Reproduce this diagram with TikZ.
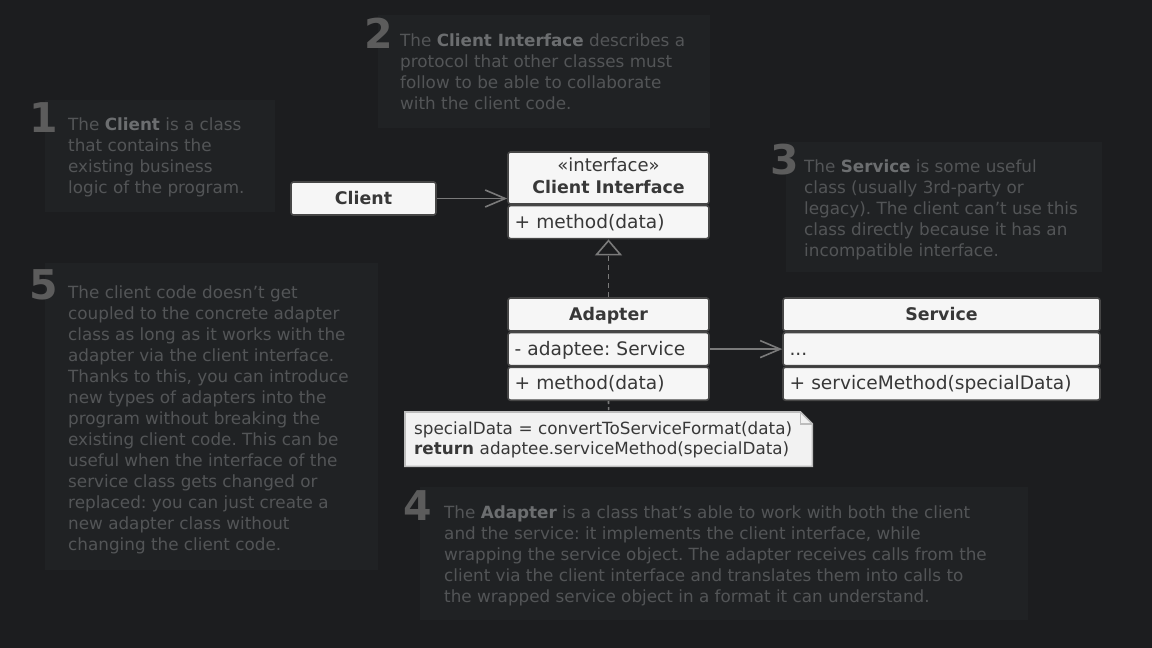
\documentclass[tikz,border=0pt]{standalone}
\usepackage{fontspec}
\setmainfont{DejaVu Sans}
\usetikzlibrary{positioning,arrows.meta,backgrounds}
\frenchspacing

\definecolor{pagebg}{HTML}{1C1D1F}
\definecolor{panelbg}{HTML}{202224}
\definecolor{desctext}{HTML}{535557}
\definecolor{descbold}{HTML}{6C6E70}
\definecolor{numgray}{HTML}{5C5C5C}
\definecolor{boxfill}{HTML}{F6F6F6}
\definecolor{boxline}{HTML}{464646}
\definecolor{boxtext}{HTML}{383838}
\definecolor{wire}{HTML}{7A7A7A}
\definecolor{notefill}{HTML}{F2F2F2}
\definecolor{noteline}{HTML}{BDBDBD}

\newcommand{\kw}[1]{\textbf{\color{descbold}#1}}
\newcommand{\rowstrut}{\rule[-5pt]{0pt}{22pt}}
\newcommand{\notestrut}{\rule[-4.5pt]{0pt}{20pt}}

\tikzset{
  desc/.style={anchor=base west, inner sep=0pt, text=desctext, font=\fontsize{16.8}{21}\selectfont},
  bignum/.style={anchor=base west, inner sep=0pt, text=numgray, font=\fontsize{41}{41}\selectfont\bfseries},
  umlbox/.style={draw=boxline, fill=boxfill, line width=1.6pt, rounded corners=2.5pt, text=boxtext,
    inner xsep=6.5pt, inner ysep=0pt, execute at begin node=\rowstrut},
  classhead/.style={umlbox, align=center, font=\fontsize{17.4}{22}\selectfont\bfseries},
  classrow/.style={umlbox, align=left, minimum height=33pt, font=\fontsize{18.6}{22}\selectfont},
  assoc/.style={draw=wire, line width=1.6pt, -{Straight Barb[length=20pt,width=17pt]}},
  realize/.style={draw=wire, line width=1.6pt, dash pattern=on 5pt off 4pt,
    -{Triangle[open,length=16pt,width=27pt,fill=pagebg]}},
}

\begin{document}
\begin{tikzpicture}[x=1pt,y=-1pt]
\useasboundingbox (0,0) rectangle (1152,648);

% 1 client
\node[bignum] (n1) at (29,132){1};
\node[desc] (d1a) at (68,130){The \kw{Client} is a class};
\node[desc] (d1b) at (68,151){that contains the};
\node[desc] (d1c) at (68,172){existing business};
\node[desc] (d1d) at (68,193){logic of the program.};

% 2 client interface
\node[bignum] (n2) at (364,48){2};
\node[desc] (d2a) at (400,46){The \kw{Client Interface} describes a};
\node[desc] (d2b) at (400,67){protocol that other classes must};
\node[desc] (d2c) at (400,88){follow to be able to collaborate};
\node[desc] (d2d) at (400,109){with the client code.};

% 3 service
\node[bignum] (n3) at (770,174){3};
\node[desc] (d3a) at (804,172){The \kw{Service} is some useful};
\node[desc] (d3b) at (804,193){class (usually 3rd-party or};
\node[desc] (d3c) at (804,214){legacy). The client can’t use this};
\node[desc] (d3d) at (804,235){class directly because it has an};
\node[desc] (d3e) at (804,256){incompatible interface.};

% 4 adapter
\node[bignum] (n4) at (403,520){4};
\node[desc] (d4a) at (444,518){The \kw{Adapter} is a class that’s able to work with both the client};
\node[desc] (d4b) at (444,539){and the service: it implements the client interface, while};
\node[desc] (d4c) at (444,560){wrapping the service object. The adapter receives calls from the};
\node[desc] (d4d) at (444,581){client via the client interface and translates them into calls to};
\node[desc] (d4e) at (444,602){the wrapped service object in a format it can understand.};

% 5 decoupling
\node[bignum] (n5) at (29,299){5};
\node[desc] (d5a) at (68,298){The client code doesn’t get};
\node[desc] (d5b) at (68,319){coupled to the concrete adapter};
\node[desc] (d5c) at (68,340){class as long as it works with the};
\node[desc] (d5d) at (68,361){adapter via the client interface.};
\node[desc] (d5e) at (68,382){Thanks to this, you can introduce};
\node[desc] (d5f) at (68,403){new types of adapters into the};
\node[desc] (d5g) at (68,424){program without breaking the};
\node[desc] (d5h) at (68,445){existing client code. This can be};
\node[desc] (d5i) at (68,466){useful when the interface of the};
\node[desc] (d5j) at (68,487){service class gets changed or};
\node[desc] (d5k) at (68,508){replaced: you can just create a};
\node[desc] (d5l) at (68,529){new adapter class without};
\node[desc] (d5m) at (68,550){changing the client code.};

% classes
\node[classhead, minimum width=145pt, minimum height=33pt] (client) at (363.5,198.5){Client};
\node[classhead, minimum width=201pt, minimum height=52pt] (ifacehead) at (608.5,178){{\mdseries\fontsize{18}{22}\selectfont «interface»}\\Client Interface};
\node[classrow, text width=188pt, below=0pt of ifacehead] (ifacemeth){+ method(data)};

\node[classhead, minimum width=201pt, minimum height=33pt] (adaphead) at (608.5,314.5){Adapter};
\node[classrow, text width=188pt, below=0pt of adaphead] (adapattr){- adaptee: Service};
\node[classrow, text width=188pt, below=0pt of adapattr] (adapmeth){+ method(data)};

\node[classhead, minimum width=317pt, minimum height=33pt] (servhead) at (941.5,314.5){Service};
\node[classrow, text width=304pt, below=0pt of servhead] (servattr){...};
\node[classrow, text width=304pt, below=0pt of servattr] (servmeth){+ serviceMethod(specialData)};

% note
\node[anchor=north west, align=left, text width=389pt, inner xsep=9pt, inner ysep=0pt, minimum height=54pt,
  text=boxtext, font=\fontsize{16.8}{20}\selectfont] (note) at (405,412)
  {\notestrut specialData = convertToServiceFormat(data)\\\notestrut\textbf{return} adaptee.serviceMethod(specialData)};

% connectors
\draw[assoc] (client.east) -- (client.east -| ifacehead.west);
\draw[realize] (adaphead.north) -- (ifacemeth.south);
\draw[assoc] (adapattr.east) -- (servattr.west);
\draw[draw=wire, line width=1.6pt, dash pattern=on 3pt off 3pt] (adapmeth.south) -- (note.north);

\begin{scope}[on background layer]
\fill[pagebg] (0,0) rectangle (1152,648);
\fill[panelbg] (45,100) rectangle (275,212);
\fill[panelbg] (378,15) rectangle (710,128);
\fill[panelbg] (786,142) rectangle (1102,272);
\fill[panelbg] (45,263) rectangle (378,570);
\fill[panelbg] (420,487) rectangle (1028,620);
\draw[fill=notefill, draw=noteline, line width=1.6pt] (note.north west) -- ([xshift=-12pt]note.north east)
  -- ([yshift=-12pt]note.north east) -- (note.south east) -- (note.south west) -- cycle;
\draw[draw=noteline, line width=1.2pt] ([xshift=-12pt]note.north east) -- ([xshift=-12pt,yshift=-12pt]note.north east)
  -- ([yshift=-12pt]note.north east);
\end{scope}
\end{tikzpicture}
\end{document}
